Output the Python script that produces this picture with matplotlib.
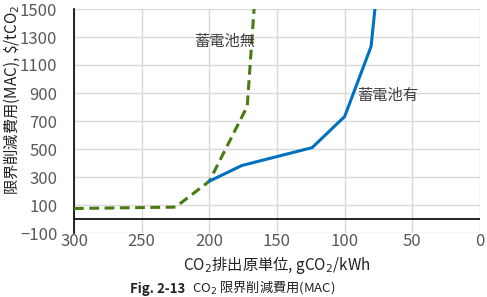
import matplotlib
matplotlib.use("Agg")
import matplotlib.pyplot as plt

plt.rcParams['font.family'] = ['Noto Sans CJK JP', 'DejaVu Sans']

# data
no_batt_x = [300, 225, 200, 172, 166.5]
no_batt_y = [75, 85, 270, 805, 1560]
batt_x = [200, 176, 124, 100, 80.5, 77]
batt_y = [270, 382, 510, 732, 1232, 1560]
xticks = [300, 250, 200, 150, 100, 50, 0]
yticks = [-100, 100, 300, 500, 700, 900, 1100, 1300, 1500]

fig = plt.figure(figsize=(4.87, 2.97), dpi=100)
ax = fig.add_axes([74/487, 1-233/297, (480-74)/487, (233-9)/297])

ax.plot(no_batt_x, no_batt_y, color='#4A7A14', lw=2.2, ls=(0, (3.2, 1.8)), zorder=3)
ax.plot(batt_x, batt_y, color='#0070C0', lw=2.2, zorder=3)

ax.set_xlim(300, 0)
ax.set_ylim(-100, 1500)
ax.set_xticks(xticks)
ax.set_yticks(yticks)
ax.grid(True, color='#d9d9d9', lw=1)
ax.set_axisbelow(True)
ax.axhline(0, color='black', lw=1.2, zorder=2)
for s in ['top', 'right', 'bottom']:
    ax.spines[s].set_visible(False)
ax.spines['left'].set_color('black')
ax.spines['left'].set_linewidth(1.2)
ax.tick_params(axis='both', length=0, labelsize=12, labelcolor='#595959')
ax.tick_params(axis='y', pad=12)
ax.tick_params(axis='x', pad=0)

ax.text(211, 1265, '蓄電池無', fontsize=11, color='#404040', va='center', ha='left')
ax.text(91, 885, '蓄電池有', fontsize=11, color='#404040', va='center', ha='left')

ax.set_xlabel('CO$_2$排出原単位, gCO$_2$/kWh', fontsize=11, color='#222222', labelpad=3)
fig.text(12/487, 1-100/297, '限界削減費用(MAC), \\$/tCO$_2$', rotation=90, fontsize=11,
         color='#222222', ha='center', va='center')

fig.text(130/487, 0.5/297, 'Fig. 2-13', fontsize=9.5, fontweight='bold', color='#222222', va='bottom')
fig.text(192/487, 0.5/297, 'CO$_2$ 限界削減費用(MAC)', fontsize=9.5, color='#222222', va='bottom')

fig.savefig('out.png', dpi=100)
